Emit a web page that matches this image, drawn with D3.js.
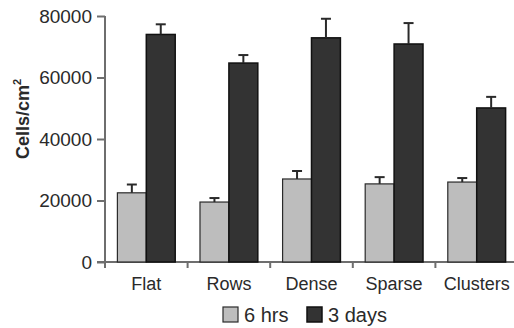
<!DOCTYPE html>
<html>
<head>
<meta charset="UTF-8"/>
<script src="https://d3js.org/d3.v7.min.js"></script>
<style>
  body { margin: 0; background: #fff; font-family: 'Liberation Sans', Arial, sans-serif; }
  svg { display: block; }
  .axis path, .axis line { stroke: #6e6e6e; stroke-width: 2; }
  .axis text { font-size: 19px; fill: #2a2a2a; font-family: 'Liberation Sans', Arial, sans-serif; }
  .bar6 { fill: #bdbdbd; stroke: #2a2a2a; stroke-width: 1.2; }
  .bar3 { fill: #333333; stroke: #111; stroke-width: 1.5; }
  .err { stroke: #2a2a2a; stroke-width: 2; }
  .label { font-size: 20px; fill: #2a2a2a; }
</style>
</head>
<body>
<svg width="514" height="328"></svg>
<script>
const categories = ['Flat', 'Rows', 'Dense', 'Sparse', 'Clusters'];
const hrs6 = [22500, 19500, 27000, 25400, 26000];
const hrs6Err = [2700, 1300, 2600, 2200, 1300];
const days3 = [74000, 64700, 72900, 70900, 50100];
const days3Err = [3300, 2600, 6200, 6800, 3600];
const yTicks = [0, 20000, 40000, 60000, 80000];
const seriesNames = ['6 hrs', '3 days'];

const svg = d3.select('svg');
const plotL = 105, plotR = 518, plotT = 16, plotB = 262;

const x = d3.scaleBand().domain(categories).range([plotL, plotR]).paddingInner(0.3).paddingOuter(0.15);
const y = d3.scaleLinear().domain([0, 80000]).range([plotB, plotT]);
const sub = d3.scaleBand().domain(['a', 'b']).range([0, x.bandwidth()]);

// y axis
const yAxis = svg.append('g').attr('class', 'axis')
  .attr('transform', `translate(${plotL},0)`)
  .call(d3.axisLeft(y).tickValues(yTicks).tickSize(8).tickSizeOuter(0).tickFormat(d3.format('d')));
yAxis.select('.domain').attr('d', `M0,${plotT}V${plotB + 6}`);
yAxis.selectAll('text').attr('x', -13);

// x axis with ticks at band boundaries
const bounds = categories.slice(1).map(c => x(c) - x.step() * x.paddingInner() / 2);
const xAxis = svg.append('g').attr('class', 'axis');
xAxis.append('path').attr('d', `M${plotL - 8},${plotB}H${plotR}`);
xAxis.selectAll('line').data(bounds).join('line')
  .attr('x1', d => d).attr('x2', d => d)
  .attr('y1', plotB).attr('y2', plotB + 6);
xAxis.selectAll('text').data(categories).join('text')
  .attr('x', d => x(d) + x.bandwidth() / 2)
  .attr('y', plotB + 28)
  .attr('text-anchor', 'middle')
  .style('font-size', '18px')
  .text(d => d);

// bars
const groups = svg.selectAll('.grp').data(categories).join('g')
  .attr('transform', d => `translate(${x(d)},0)`);

groups.append('rect').attr('class', 'bar6')
  .attr('x', sub('a')).attr('width', sub.bandwidth())
  .attr('y', (d, i) => y(hrs6[i])).attr('height', (d, i) => y(0) - y(hrs6[i]));
groups.append('rect').attr('class', 'bar3')
  .attr('x', sub('b')).attr('width', sub.bandwidth())
  .attr('y', (d, i) => y(days3[i])).attr('height', (d, i) => y(0) - y(days3[i]));

// error bars (upper only)
function errBars(vals, errs, key) {
  const cx = sub(key) + sub.bandwidth() / 2;
  groups.append('line').attr('class', 'err')
    .attr('x1', cx).attr('x2', cx)
    .attr('y1', (d, i) => y(vals[i])).attr('y2', (d, i) => y(vals[i] + errs[i]));
  groups.append('line').attr('class', 'err')
    .attr('x1', cx - 5).attr('x2', cx + 5)
    .attr('y1', (d, i) => y(vals[i] + errs[i])).attr('y2', (d, i) => y(vals[i] + errs[i]));
}
errBars(hrs6, hrs6Err, 'a');
errBars(days3, days3Err, 'b');

// y label
svg.append('text').attr('class', 'label')
  .attr('transform', 'translate(29,119) rotate(-90)')
  .attr('text-anchor', 'middle')
  .style('font-weight', 'bold').style('font-size', '18px')
  .html('Cells/cm<tspan dy="-8" font-size="11">2</tspan>');

// legend
const legend = svg.append('g').attr('transform', 'translate(223,307)');
const lx = [0, 84];
seriesNames.forEach((n, i) => {
  legend.append('rect').attr('class', i === 0 ? 'bar6' : 'bar3')
    .attr('x', lx[i]).attr('y', 0).attr('width', 15).attr('height', 15);
  legend.append('text').attr('class', 'label')
    .attr('x', lx[i] + 21).attr('y', 15).text(n);
});
</script>
</body>
</html>
